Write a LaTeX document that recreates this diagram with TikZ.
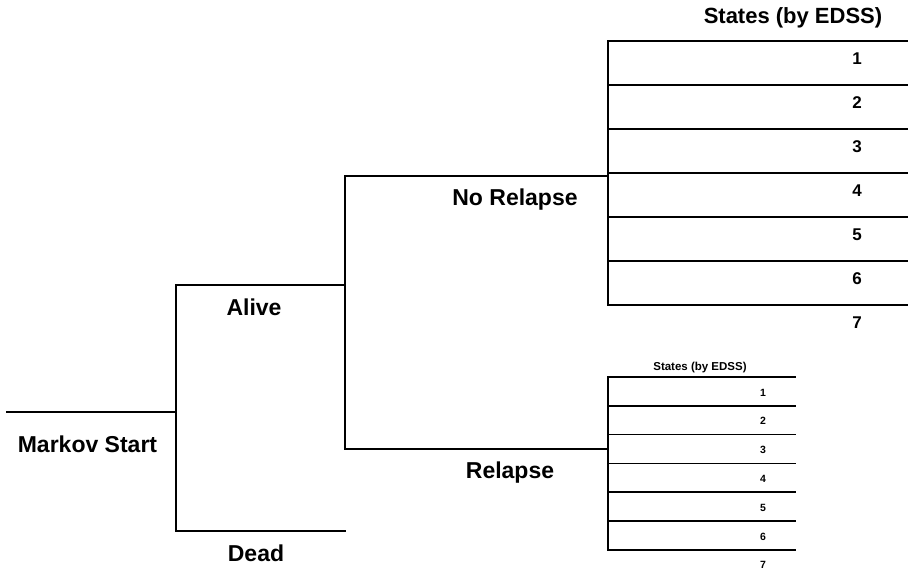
\documentclass[tikz,border=0pt]{standalone}
\usepackage{fontspec}
\setmainfont{Liberation Sans}
\begin{document}
\begin{tikzpicture}[x=1pt,y=-1pt,
  branch/.style={line width=1.8pt,line cap=rect},
  rowline/.style={line width=1.6pt},
  biglabel/.style={font=\bfseries\fontsize{23}{27}\selectfont,inner sep=0pt,anchor=base},
  bigtitle/.style={font=\bfseries\fontsize{22}{26}\selectfont,inner sep=0pt,anchor=base},
  bignum/.style={font=\bfseries\fontsize{17}{20}\selectfont,inner sep=0pt,anchor=base},
  smalltitle/.style={font=\bfseries\fontsize{11.5}{14}\selectfont,inner sep=0pt,anchor=base},
  smallnum/.style={font=\bfseries\fontsize{10.5}{13}\selectfont,inner sep=0pt,anchor=base}]
\useasboundingbox (0,0) rectangle (908,571);
% junction coordinates
\coordinate (ms0) at (7,412);
\coordinate (ms1) at (176,412);
\coordinate (j1t) at (176,285);
\coordinate (j1b) at (176,531);
\coordinate (al) at (345,285);
\coordinate (de) at (345,531);
\coordinate (j2t) at (345,176);
\coordinate (j2b) at (345,449);
\coordinate (nr) at (608,176);
\coordinate (rl) at (608,449);
% tree branches
\draw[branch] (ms0) -- (ms1);
\draw[branch] (j1t) -- (j1b);
\draw[branch] (j1t) -- (al);
\draw[branch] (j1b) -- (de);
\draw[branch] (j2t) -- (j2b);
\draw[branch] (j2t) -- (nr);
\draw[branch] (j2b) -- (rl);
% labels
\node[biglabel] (lms) at (87.5,452) {Markov Start};
\node[biglabel] (lal) at (254,315) {Alive};
\node[biglabel] (lde) at (256,561) {Dead};
\node[biglabel] (lnr) at (515,205) {No Relapse};
\node[biglabel] (lrl) at (510,478) {Relapse};
% upper states panel
\node[bigtitle] (ut) at (793,23) {States (by EDSS)};
\coordinate (uvt) at (608,41);
\coordinate (uvb) at (608,305);
\draw[branch] (uvt) -- (uvb);
\foreach \k in {0,...,6} {
  \coordinate (ul\k) at (608,41+44*\k);
  \coordinate (ur\k) at (908,41+44*\k);
  \draw[rowline] (ul\k) -- (ur\k);
}
\foreach \k [evaluate=\k as \n using int(\k+1)] in {0,...,6} {
  \node[bignum] (un\k) at (857,64.5+44*\k) {\n};
}
% lower states panel
\node[smalltitle] (lt) at (700,370) {States (by EDSS)};
\coordinate (lvt) at (608,377);
\coordinate (lvb) at (608,550);
\draw[branch] (lvt) -- (lvb);
\foreach \k in {0,...,6} {
  \coordinate (ll\k) at (608,377+28.8*\k);
  \coordinate (lr\k) at (796,377+28.8*\k);
  \draw[rowline] (ll\k) -- (lr\k);
}
\foreach \k [evaluate=\k as \n using int(\k+1)] in {0,...,6} {
  \node[smallnum] (ln\k) at (763,396+28.8*\k) {\n};
}
\end{tikzpicture}
\end{document}
